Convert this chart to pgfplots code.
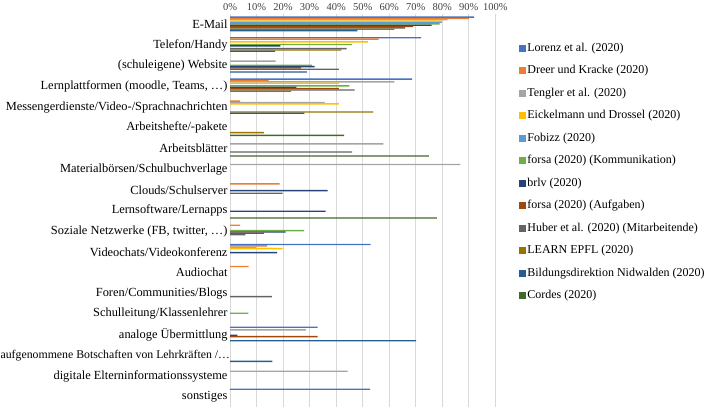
\documentclass[border=0pt]{standalone}
\usepackage{pgfplots}
\pgfplotsset{compat=1.18}
\usepackage{fontspec}
\setmainfont{Liberation Serif}
\definecolor{c1}{HTML}{4472C4}
\definecolor{c2}{HTML}{ED7D31}
\definecolor{c3}{HTML}{A5A5A5}
\definecolor{c4}{HTML}{FFC000}
\definecolor{c5}{HTML}{5B9BD5}
\definecolor{c6}{HTML}{70AD47}
\definecolor{c7}{HTML}{264478}
\definecolor{c8}{HTML}{9E480E}
\definecolor{c9}{HTML}{636363}
\definecolor{c10}{HTML}{997300}
\definecolor{c11}{HTML}{255E91}
\definecolor{c12}{HTML}{43682B}
\definecolor{gridgray}{HTML}{D9D9D9}
\definecolor{tickgray}{HTML}{404040}
\begin{document}
\begin{tikzpicture}
\useasboundingbox (0,0) rectangle (708pt,408pt);
\begin{axis}[
  at={(230pt,1pt)}, anchor=south west,
  scale only axis, width=265.3pt, height=392.8pt,
  xmin=0, xmax=100, ymin=-0.5, ymax=18.5, y dir=reverse,
  xtick={0,10,...,100}, xticklabel pos=upper,
  xticklabel={\pgfmathprintnumber{\tick}\%},
  xticklabel style={font=\fontsize{10.5}{12}\selectfont, text=tickgray},
  /pgf/number format/assume math mode=true,
  ytick={0,...,18},
  yticklabels={E-Mail,Telefon/Handy,(schuleigene) Website,{Lernplattformen (moodle, Teams, …)},Messengerdienste/Video-/Sprachnachrichten,Arbeitshefte/-pakete,Arbeitsblätter,Materialbörsen/Schulbuchverlage,Clouds/Schulserver,Lernsoftware/Lernapps,{Soziale Netzwerke (FB, twitter, …)},Videochats/Videokonferenz,Audiochat,Foren/Communities/Blogs,Schulleitung/Klassenlehrer,analoge Übermittlung,{\fontsize{11.8}{14}\selectfont aufgenommene Botschaften von Lehrkräften /…\kern-2.5pt},digitale Elterninformationssysteme,sonstiges},
  yticklabel style={font=\fontsize{12.4}{14}\selectfont, text=black, xshift=1pt},
  major tick length=0pt,
  xmajorgrids, grid style={draw=gridgray, line width=0.75pt},
  axis line style={draw=none},
  xbar, bar width=0.066,
  legend style={at={(1.088,0.932)}, anchor=north west, draw=none, fill=none, inner sep=0pt,
    font=\fontsize{12}{14}\selectfont, row sep=8.5pt,
    nodes={inner sep=1.5pt, text height=8.5pt, text depth=2.5pt}},
  legend cell align=left,
  legend image code/.code={\fill[#1] (0pt,-3.5pt) rectangle (7pt,3.5pt);},
]
\addplot[fill=c1, draw=none, bar shift=-0.359] coordinates {(92,0)(72,1)(68.6,3)(53,11)(33,15)(52.8,18)};
\addplot[fill=c2, draw=none, bar shift=-0.294] coordinates {(90,0)(56,1)(14.6,3)(3.8,4)(18.7,8)(3.8,10)(14,11)(7,12)};
\addplot[fill=c3, draw=none, bar shift=-0.229] coordinates {(82,0)(17.2,2)(62,3)(35.7,4)(57.8,6)(86.8,7)(9.8,11)(28.6,15)(44.3,17)};
\addplot[fill=c4, draw=none, bar shift=-0.163] coordinates {(80,0)(52,1)(41,3)(41,4)(19.8,11)};
\addplot[fill=c5, draw=none, bar shift=-0.098] coordinates {(80,0)};
\addplot[fill=c6, draw=none, bar shift=-0.033] coordinates {(79,0)(46,1)(30.9,2)(45,3)(27.9,10)(6.9,14)};
\addplot[fill=c7, draw=none, bar shift=0.033] coordinates {(76,0)(19,1)(31.9,2)(25,3)(36.8,8)(36,9)(21,10)(17.8,11)(2.8,15)};
\addplot[fill=c8, draw=none, bar shift=0.098] coordinates {(69,0)(26.8,2)(41,3)(12.8,10)(33,15)};
\addplot[fill=c9, draw=none, bar shift=0.163] coordinates {(66,0)(44,1)(41,2)(47,3)(46,6)(19.8,8)(5.8,10)(15.8,13)};
\addplot[fill=c10, draw=none, bar shift=0.229] coordinates {(62,0)(42,1)(23,3)(54,4)(12.8,5)};
\addplot[fill=c11, draw=none, bar shift=0.294] coordinates {(48,0)(17,1)(29,2)(28,4)(70.2,15)(16,16)};
\addplot[fill=c12, draw=none, bar shift=0.359] coordinates {(43,5)(75,6)(78,9)};
\legend{Lorenz et al. (2020),Dreer und Kracke (2020),Tengler et al. (2020),Eickelmann und Drossel (2020),Fobizz (2020),forsa (2020) (Kommunikation),brlv (2020),forsa (2020) (Aufgaben),Huber et al. (2020) (Mitarbeitende),LEARN EPFL (2020),Bildungsdirektion Nidwalden (2020),Cordes (2020)}
\end{axis}
\end{tikzpicture}
\end{document}
